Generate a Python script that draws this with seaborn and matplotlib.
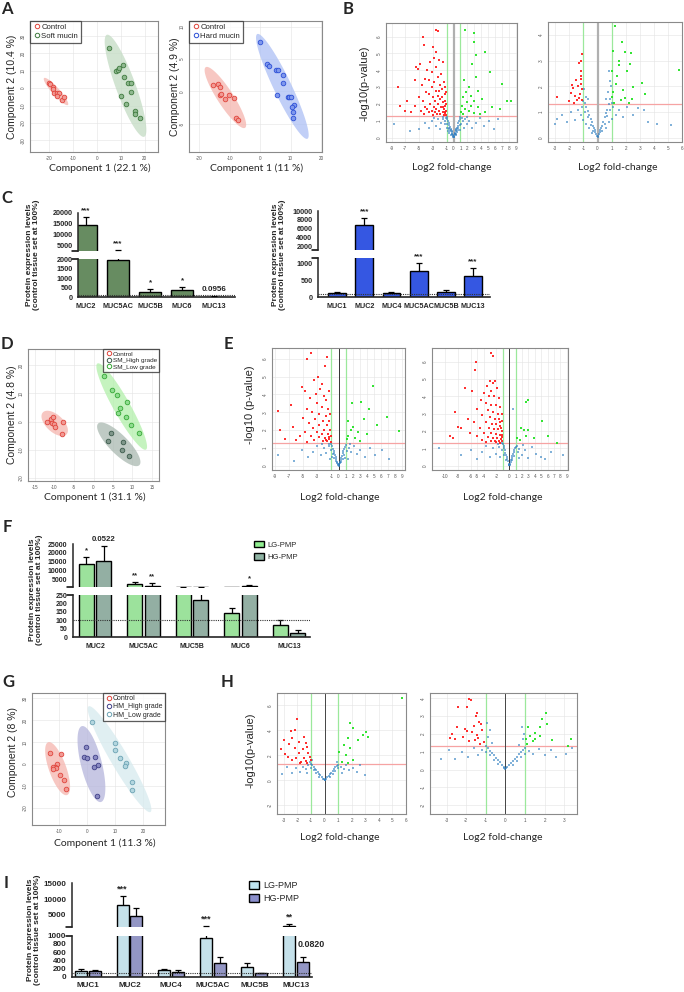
import numpy as np
import pandas as pd
import matplotlib
matplotlib.use("Agg")
import matplotlib.pyplot as plt
from matplotlib.patches import Patch
from matplotlib.lines import Line2D
import seaborn as sns

# ---------------- PCA scores ----------------
a1_control = [(-19.7, 2.9), (-19.5, 2.7), (-18.1, 0.6), (-18.3, -0.6), (-17.8, -2.5),
              (-16.4, -2.9), (-15.7, -2.9), (-16.4, -4.6), (-14.3, -6.6), (-13.5, -4.9)]
a1_soft = [(5.1, 22.9), (8.0, 10.1), (8.9, 10.7), (9.4, 11.4), (11.1, 13.4), (11.5, 6.5),
           (13.0, 2.9), (14.3, 2.9), (14.2, -2.3), (10.1, -4.6), (12.2, -9.1), (15.8, -12.9),
           (16.1, -15.0), (18.0, -17.1)]
a2_control = [(-15.5, 1.0), (-13.9, 1.15), (-13.0, 0.6), (-13.1, -0.5), (-12.8, -0.4),
              (-11.4, -1.2), (-10.3, -0.6), (-8.7, -1.0), (-7.8, -4.2), (-7.2, -4.4)]
a2_hard = [(-0.1, 7.7), (2.4, 4.3), (3.0, 3.9), (5.2, 3.3), (6.0, 3.3), (7.5, 2.6), (7.5, 1.3),
           (5.7, -0.6), (9.0, -0.8), (9.6, -0.8), (10.3, -0.8), (11.2, -2.1), (10.6, -2.5),
           (10.7, -3.2), (10.9, -4.1)]
d_control = [(-11.9, -0.1), (-10.9, 1.1), (-10.4, 1.6), (-10.6, -0.4), (-10.1, -0.8),
             (-9.8, -1.8), (-7.8, -0.2), (-8.1, -4.3)]
d_high = [(4.6, -3.9), (7.6, -7.3), (3.7, -6.7), (7.3, -10.2), (9.2, -12.0)]
d_low = [(2.8, 16.1), (4.8, 11.1), (6.1, 9.3), (8.5, 6.9), (6.8, 4.9), (6.4, 3.0), (8.4, 1.8),
         (9.6, -1.1), (11.7, -3.9)]
g_control = [(-13.0, 5.1), (-9.3, 4.5), (-10.6, 0.0), (-11.4, -1.2), (-12.0, -1.5), (-11.2, -2.0),
             (-12.0, -2.3), (-9.5, -4.9), (-8.0, -7.3), (-7.5, -11.2)]
g_high = [(-0.25, 7.7), (-1.1, 3.0), (0.0, 2.6), (2.75, 3.3), (3.9, -0.6), (2.5, -1.5), (3.6, -14.5)]
g_low = [(1.7, 19.1), (9.9, 9.7), (10.2, 6.5), (12.0, 2.9), (13.8, 0.5), (13.7, -0.9),
         (16.0, -8.2), (16.0, -11.8)]

# ---------------- volcano points (log2 FC, -log10 p) ----------------
bl_red = [(-2.5, 6.4), (-2.2, 6.3), (-4.4, 6.0), (-4.3, 5.5), (-4.8, 4.4), (-5.4, 4.2), (-5.1, 4.1),
          (-8.1, 3.0), (-6.8, 2.2), (-7.0, 1.6), (-7.8, 1.9), (-5.6, 3.4), (-3.0, 5.4), (-2.6, 5.1),
          (-2.9, 4.7), (-3.4, 4.5), (-2.1, 4.6), (-1.6, 4.5), (-2.5, 4.2), (-3.9, 4.0), (-3.1, 3.9),
          (-1.8, 3.8), (-2.3, 3.6), (-4.2, 3.5), (-3.5, 3.4), (-2.8, 3.3), (-1.4, 3.3), (-4.6, 3.1),
          (-2.0, 3.1), (-3.2, 3.0), (-1.7, 2.9), (-2.6, 2.8), (-4.0, 2.7), (-3.6, 2.6), (-1.3, 2.6),
          (-2.2, 2.5), (-5.0, 2.4), (-3.0, 2.4), (-1.9, 2.3), (-4.4, 2.2), (-2.7, 2.2), (-1.5, 2.1),
          (-3.4, 2.0), (-2.3, 2.0), (-1.2, 1.9), (-5.6, 1.9), (-4.1, 1.8), (-2.9, 1.8), (-1.8, 1.8),
          (-3.8, 1.7), (-2.5, 1.7), (-1.4, 1.7), (-4.7, 1.6), (-3.2, 1.6), (-2.1, 1.6), (-1.1, 1.6),
          (-6.2, 1.5), (-3.6, 1.5), (-2.7, 1.5), (-1.6, 1.5), (-1.2, 1.45), (-4.3, 1.4), (-2.4, 1.4),
          (-1.9, 1.4), (-1.4, 1.35), (-3.0, 1.35), (-1.1, 1.35), (-1.3, 2.2), (-1.1, 2.0), (-1.2, 1.55),
          (-1.5, 1.8), (-1.7, 2.4), (-2.1, 2.8), (-1.3, 3.0), (-1.1, 2.7)]
bl_green = [(1.7, 6.4), (2.9, 6.2), (2.9, 5.7), (4.5, 5.1), (3.2, 4.9), (2.7, 4.4), (5.3, 3.9),
            (3.2, 3.6), (7.0, 3.2), (8.3, 2.2), (7.7, 2.2), (5.6, 1.8), (6.8, 1.7), (1.5, 3.4),
            (2.2, 3.0), (1.8, 2.7), (3.6, 2.8), (2.5, 2.5), (1.3, 2.4), (4.1, 2.3), (3.0, 2.2),
            (1.9, 2.1), (1.2, 1.9), (2.6, 1.9), (3.5, 1.8), (1.6, 1.7), (2.2, 1.6), (4.6, 1.5),
            (1.1, 1.5), (2.9, 1.45), (1.4, 1.4), (3.8, 1.4)]
bl_blue = [(0.0, 0.02), (-0.05, 0.05), (0.05, 0.06), (-0.1, 0.1), (0.1, 0.12), (-0.15, 0.18),
           (0.15, 0.2), (-0.2, 0.25), (0.2, 0.22), (-0.25, 0.32), (0.25, 0.3), (-0.3, 0.4),
           (0.3, 0.38), (-0.35, 0.45), (0.35, 0.44), (-0.4, 0.5), (0.4, 0.5), (-0.5, 0.62), (0.5, 0.6),
           (-0.6, 0.75), (0.6, 0.72), (-0.7, 0.88), (0.7, 0.85), (-0.8, 1.0), (0.8, 0.98), (-0.9, 1.12),
           (0.9, 1.1), (-1.0, 1.25), (1.0, 1.22), (-0.3, 0.2), (0.3, 0.18), (-0.5, 0.4), (0.5, 0.35),
           (-0.7, 0.6), (0.7, 0.55), (-0.9, 0.8), (0.9, 0.75), (-1.2, 1.0), (1.1, 0.8), (-1.5, 1.1),
           (1.3, 1.0), (-1.3, 0.8), (1.6, 1.1), (-1.8, 0.9), (1.9, 0.8), (-2.2, 1.1), (2.3, 1.0),
           (-2.6, 0.7), (2.7, 0.6), (-3.1, 1.0), (3.2, 0.9), (-3.5, 0.6), (3.8, 1.2), (-4.2, 0.9),
           (4.4, 0.7), (-5.0, 0.5), (5.1, 1.0), (-6.3, 0.4), (5.9, 0.5), (-8.6, 0.8), (6.5, 1.1),
           (-2.0, 0.5), (1.5, 0.6), (-1.0, 0.6), (1.0, 0.45), (-0.8, 0.4), (-0.6, 0.3), (-0.4, 0.15),
           (0.4, 0.25), (-1.5, 1.25), (2.0, 1.25), (-2.8, 1.2), (-0.6, 0.5), (0.6, 0.45), (-1.1, 1.15),
           (1.2, 1.2)]

br_red = [(-1.1, 3.24), (-1.17, 2.98), (-1.31, 2.92), (-1.19, 2.42), (-1.21, 2.29), (-1.5, 2.26),
          (-1.79, 2.07), (-1.74, 1.93), (-1.62, 1.61), (-1.26, 1.71), (-1.45, 1.48), (-1.07, 1.48),
          (-1.64, 1.35), (-2.88, 1.58), (-1.21, 2.59), (-1.4, 2.0), (-1.1, 1.9), (-1.3, 1.55),
          (-2.0, 1.45), (-1.9, 1.75), (-1.15, 2.1)]
br_green = [(1.26, 4.35), (1.71, 3.74), (1.12, 3.37), (1.95, 3.33), (2.38, 3.31), (1.52, 2.98),
            (1.55, 2.84), (2.31, 2.85), (2.07, 2.59), (1.04, 2.59), (1.36, 2.39), (3.14, 2.13),
            (2.55, 1.97), (1.12, 1.8), (1.79, 1.87), (5.76, 2.65), (3.38, 1.7), (1.64, 1.48),
            (2.26, 1.35), (1.19, 1.35), (1.95, 1.54), (2.43, 1.5), (1.3, 2.1), (1.05, 1.6)]
br_blue = [(0.0, 0.02), (-0.05, 0.06), (0.05, 0.07), (-0.1, 0.14), (0.1, 0.15), (-0.15, 0.22),
           (0.15, 0.24), (-0.2, 0.3), (0.2, 0.32), (-0.25, 0.38), (0.25, 0.4), (-0.3, 0.45), (0.3, 0.47),
           (-0.4, 0.6), (0.4, 0.62), (-0.5, 0.75), (0.5, 0.8), (-0.6, 0.9), (0.6, 0.95), (-0.7, 1.05),
           (0.7, 1.1), (-0.8, 1.2), (0.8, 1.3), (-0.9, 1.35), (0.9, 1.5), (-1.0, 1.45), (1.0, 1.35),
           (-0.3, 0.25), (0.3, 0.25), (-0.5, 0.5), (0.5, 0.55), (-0.7, 0.8), (0.7, 0.85), (-0.9, 1.0),
           (0.9, 1.1), (-1.1, 1.2), (1.1, 1.2), (-1.2, 0.9), (1.3, 0.9), (-1.4, 1.1), (1.5, 1.1),
           (-1.6, 0.7), (1.8, 0.8), (-1.9, 1.0), (2.1, 1.2), (-2.2, 0.6), (2.5, 0.9), (-2.5, 0.9),
           (2.9, 1.15), (-2.9, 0.75), (3.3, 1.1), (-3.0, 0.55), (3.6, 0.6), (4.2, 0.55), (5.2, 0.5),
           (-1.0, 0.7), (-0.8, 0.55), (-0.6, 0.4), (-0.4, 0.2), (0.6, 0.4), (0.8, 0.6), (1.0, 0.75),
           (-0.85, 1.6), (-0.95, 1.9), (0.75, 1.8), (0.8, 2.6), (0.85, 2.2), (0.95, 2.0), (0.6, 1.5),
           (-0.7, 1.5)]

el_red = [(-3.9, 6.3), (-4.4, 6.0), (-1.6, 6.1), (-1.9, 5.6), (-5.1, 4.4), (-4.7, 4.2), (-6.7, 3.4),
          (-8.5, 3.1), (-8.2, 2.0), (-6.5, 2.2), (-5.4, 1.65), (-2.9, 5.0), (-2.3, 4.6), (-1.7, 3.7),
          (-3.5, 4.8), (-2.6, 4.3), (-3.2, 4.0), (-4.0, 3.8), (-1.4, 4.2), (-2.0, 3.9), (-3.0, 3.5),
          (-2.4, 3.3), (-4.4, 3.2), (-1.5, 3.2), (-3.7, 3.0), (-2.8, 2.9), (-1.8, 2.8), (-5.0, 2.7),
          (-3.3, 2.6), (-2.2, 2.5), (-1.3, 2.5), (-4.2, 2.4), (-2.7, 2.3), (-1.6, 2.3), (-3.6, 2.1),
          (-2.0, 2.0), (-1.2, 2.0), (-4.8, 1.9), (-3.0, 1.9), (-2.4, 1.8), (-1.5, 1.8), (-3.9, 1.7),
          (-1.1, 1.7), (-2.8, 1.6), (-1.9, 1.55), (-1.3, 1.5), (-6.0, 1.45), (-3.4, 1.45), (-2.2, 1.4),
          (-1.6, 1.38), (-1.1, 1.35), (-4.5, 1.35), (-7.6, 1.5), (-1.2, 2.9), (-1.4, 1.6), (-1.7, 1.45)]
el_green = [(3.2, 3.6), (4.9, 4.5), (1.9, 3.5), (4.3, 3.2), (6.9, 2.75), (8.6, 1.95), (1.3, 2.5),
            (2.1, 2.2), (2.8, 1.9), (3.6, 2.6), (1.4, 1.7), (2.4, 1.55), (4.0, 1.8), (1.2, 1.5),
            (5.5, 2.3), (3.0, 1.4), (1.7, 2.0)]
el_blue = [(0.0, 0.02), (-0.05, 0.05), (0.05, 0.05), (-0.1, 0.1), (0.1, 0.1), (-0.15, 0.17),
           (0.15, 0.18), (-0.2, 0.24), (0.2, 0.23), (-0.3, 0.36), (0.3, 0.35), (-0.4, 0.48), (0.4, 0.46),
           (-0.5, 0.6), (0.5, 0.58), (-0.6, 0.72), (0.6, 0.7), (-0.7, 0.85), (0.7, 0.82), (-0.8, 0.97),
           (0.8, 0.95), (-0.9, 1.1), (0.9, 1.05), (-1.0, 1.22), (1.0, 1.15), (-0.4, 0.25), (0.4, 0.22),
           (-0.6, 0.45), (0.6, 0.4), (-0.8, 0.65), (0.8, 0.6), (-1.1, 0.9), (1.2, 0.85), (-1.4, 1.1),
           (1.5, 1.0), (-1.7, 0.7), (1.8, 0.75), (-2.1, 1.0), (2.2, 1.1), (-2.5, 0.6), (2.6, 0.65),
           (-3.0, 1.1), (3.1, 0.9), (-3.6, 0.8), (3.7, 0.5), (-4.3, 0.5), (4.4, 1.0), (-5.2, 0.9),
           (5.2, 0.6), (-6.3, 0.3), (6.1, 0.9), (-8.6, 0.6), (7.2, 0.4), (-1.3, 1.25), (1.6, 1.25),
           (-2.3, 1.2), (-0.9, 0.5), (0.9, 0.45), (-1.2, 0.4), (1.3, 0.4)]

er_red = [(-2.8, 6.5), (-2.5, 6.35), (-5.2, 6.0), (-5.4, 5.5), (-6.9, 4.5), (-5.9, 4.3), (-8.5, 3.1),
          (-6.4, 2.7), (-8.0, 2.25), (-7.5, 2.15), (-9.3, 1.7), (-8.8, 1.6), (-3.0, 4.9), (-2.6, 4.8),
          (-2.2, 4.9), (-3.5, 4.6), (-1.9, 4.5), (-2.8, 4.3), (-4.0, 4.2), (-3.2, 4.0), (-2.4, 4.0),
          (-1.6, 3.9), (-4.5, 3.8), (-3.6, 3.6), (-2.9, 3.5), (-2.1, 3.5), (-1.4, 3.4), (-5.0, 3.3),
          (-3.3, 3.2), (-2.6, 3.1), (-1.8, 3.0), (-1.2, 3.0), (-4.2, 2.9), (-3.0, 2.8), (-2.3, 2.7),
          (-1.6, 2.7), (-1.1, 2.6), (-5.5, 2.5), (-3.7, 2.5), (-2.7, 2.4), (-2.0, 2.4), (-1.4, 2.3),
          (-4.6, 2.2), (-3.2, 2.2), (-2.4, 2.1), (-1.7, 2.1), (-1.2, 2.0), (-6.1, 1.9), (-3.9, 1.9),
          (-2.9, 1.9), (-2.1, 1.85), (-1.5, 1.8), (-1.1, 1.75), (-5.0, 1.7), (-3.4, 1.65), (-2.6, 1.6),
          (-1.9, 1.6), (-1.3, 1.55), (-4.3, 1.5), (-2.9, 1.45), (-2.2, 1.45), (-1.6, 1.4), (-1.1, 1.4),
          (-3.6, 1.35), (-2.0, 1.35), (-1.4, 1.32), (-1.3, 2.2), (-1.5, 2.55), (-1.2, 1.65)]
er_green = [(3.0, 3.8), (2.6, 3.7), (5.1, 2.6), (1.9, 2.15), (2.3, 2.05), (3.0, 2.05), (1.25, 1.6),
            (3.8, 1.6), (6.1, 1.7), (1.7, 1.5), (2.7, 1.7), (7.4, 1.3)]
er_blue = [(0.0, 0.02), (-0.05, 0.06), (0.05, 0.05), (-0.1, 0.12), (0.1, 0.1), (-0.2, 0.25),
           (0.2, 0.22), (-0.3, 0.38), (0.3, 0.33), (-0.4, 0.5), (0.4, 0.44), (-0.5, 0.62), (0.5, 0.55),
           (-0.6, 0.75), (0.6, 0.66), (-0.7, 0.88), (0.7, 0.78), (-0.8, 1.0), (0.8, 0.9), (-0.9, 1.12),
           (0.9, 1.0), (-1.0, 1.25), (1.0, 1.1), (-1.1, 1.3), (1.15, 1.15), (-0.5, 0.3), (0.5, 0.3),
           (-0.8, 0.6), (0.8, 0.55), (-1.2, 0.9), (1.3, 0.8), (-1.6, 1.1), (1.6, 0.95), (-2.0, 0.7),
           (2.0, 0.6), (-2.5, 1.0), (2.5, 0.9), (-3.0, 0.5), (3.0, 0.45), (-3.6, 1.15), (3.5, 1.1),
           (-4.3, 0.8), (4.2, 0.7), (-5.0, 0.4), (4.9, 0.5), (-6.0, 0.9), (5.6, 0.4), (-7.5, 0.6),
           (6.5, 0.8), (-11.0, 1.0), (8.4, 0.6), (-1.4, 0.5), (1.5, 0.45), (0.6, 3.3), (-1.8, 1.25),
           (2.2, 1.2)]

hl_red = [(-2.0, 4.9), (-2.2, 4.05), (-2.5, 3.97), (-3.0, 3.25), (-3.2, 2.5), (-2.7, 1.9), (-1.5, 3.5),
          (-1.36, 3.0), (-1.85, 3.1), (-2.2, 2.6), (-1.2, 2.2), (-1.5, 1.8), (-1.03, 1.65), (-1.26, 1.4),
          (-1.7, 1.5), (-2.4, 1.6), (-1.9, 2.2), (-2.6, 2.9), (-1.6, 2.5), (-1.1, 1.9), (-2.1, 1.75),
          (-1.4, 1.55), (-2.9, 2.1), (-1.8, 1.35), (-1.3, 2.7), (-2.4, 3.4)]
hl_green = [(1.9, 4.6), (2.07, 4.2), (3.05, 3.9), (2.8, 3.65), (2.5, 3.25), (3.2, 3.45), (1.74, 3.4),
            (1.4, 2.85), (1.9, 2.6), (1.1, 2.3), (1.6, 2.05), (2.07, 1.65), (1.25, 1.5), (5.7, 6.6),
            (1.74, 1.4)]
hl_blue = [(0.0, 0.02), (-0.05, 0.07), (0.05, 0.06), (-0.1, 0.14), (0.1, 0.13), (-0.2, 0.27),
           (0.2, 0.25), (-0.3, 0.4), (0.3, 0.38), (-0.4, 0.53), (0.4, 0.5), (-0.5, 0.66), (0.5, 0.62),
           (-0.6, 0.8), (0.6, 0.76), (-0.7, 0.93), (0.7, 0.9), (-0.8, 1.06), (0.8, 1.03), (-0.9, 1.2),
           (0.9, 1.15), (-1.0, 1.3), (1.0, 1.25), (-0.4, 0.3), (0.4, 0.28), (-0.6, 0.55), (0.6, 0.5),
           (-0.8, 0.8), (0.8, 0.75), (-1.0, 1.0), (1.0, 0.95), (-1.2, 1.2), (1.2, 1.1), (-1.4, 0.9),
           (1.4, 0.9), (-1.6, 1.1), (1.6, 1.2), (-1.8, 0.7), (1.8, 0.8), (-2.1, 1.0), (2.1, 1.0),
           (-2.4, 0.6), (2.4, 0.7), (-2.8, 1.1), (2.6, 1.2), (-3.1, 0.5), (3.0, 0.4), (-0.9, 1.6),
           (-1.1, 1.5), (0.9, 1.5), (-1.3, 0.6), (1.3, 0.6)]

hr_red = [(-1.84, 3.98), (-1.77, 3.89), (-2.43, 3.54), (-1.94, 3.52), (-1.46, 3.2), (-1.5, 3.0),
          (-2.48, 2.4), (-2.06, 2.28), (-1.97, 2.19), (-1.33, 2.65), (-1.26, 2.56), (-1.63, 2.46),
          (-2.74, 2.0), (-2.82, 1.78), (-2.57, 1.72), (-2.18, 1.81), (-1.72, 2.09), (-1.43, 1.96),
          (-1.21, 2.22), (-1.84, 1.63), (-1.55, 1.67), (-1.29, 1.44), (-1.12, 1.54), (-1.38, 1.78)]
hr_green = [(2.07, 3.15), (1.85, 2.83), (2.14, 2.56), (1.77, 2.41), (1.17, 2.37), (1.51, 2.06),
            (1.26, 1.91), (1.77, 1.91), (1.04, 1.72), (1.51, 1.72), (2.36, 1.67), (3.35, 1.7),
            (3.21, 1.34), (1.39, 1.63), (1.12, 1.44)]
hr_blue = [(0.0, 0.02), (-0.05, 0.07), (0.05, 0.06), (-0.1, 0.14), (0.1, 0.12), (-0.2, 0.27),
           (0.2, 0.24), (-0.3, 0.4), (0.3, 0.36), (-0.4, 0.53), (0.4, 0.48), (-0.5, 0.66), (0.5, 0.6),
           (-0.6, 0.8), (0.6, 0.72), (-0.7, 0.93), (0.7, 0.85), (-0.8, 1.06), (0.8, 0.98), (-0.9, 1.2),
           (0.9, 1.1), (-1.0, 1.3), (1.0, 1.22), (-0.4, 0.3), (0.4, 0.25), (-0.6, 0.55), (0.6, 0.5),
           (-0.8, 0.8), (0.8, 0.72), (-1.0, 1.0), (1.0, 0.9), (-1.2, 1.1), (1.2, 1.05), (-1.4, 0.8),
           (1.4, 0.9), (-1.6, 1.2), (1.7, 1.15), (-1.9, 0.7), (2.0, 0.8), (-2.2, 1.0), (2.3, 1.1),
           (-2.6, 0.6), (2.6, 0.7), (-2.9, 1.1), (3.1, 0.9), (-3.3, 0.6), (3.4, 1.2), (-0.9, 1.8),
           (-0.8, 2.2), (-0.95, 2.6), (0.9, 1.7), (0.95, 2.0), (0.85, 2.4), (-0.7, 1.5), (0.7, 1.4)]

P_CUT = -np.log10(0.05)
FC_CUT = 1.0

# ---------------- mucin bar data (% of control tissue) ----------------
c1_genes = ['MUC2', 'MUC5AC', 'MUC5B', 'MUC6', 'MUC13']
c1_mean = [14300, 1950, 300, 380, 40]
c1_sem = [3700, 900, 120, 180, 20]
c1_sig = ['***', '***', '*', '*', '0.0956']

c2_genes = ['MUC1', 'MUC2', 'MUC4', 'MUC5AC', 'MUC5B', 'MUC13']
c2_mean = [130, 6800, 120, 800, 170, 650]
c2_sem = [30, 1700, 30, 230, 60, 220]
c2_sig = ['', '***', '', '***', '', '***']

f_genes = ['MUC2', 'MUC5AC', 'MUC5B', 'MUC6', 'MUC13']
f_lg_mean = [13500, 2100, 550, 140, 70]
f_lg_sem = [4000, 1300, 60, 30, 30]
f_hg_mean = [15400, 1150, 220, 750, 26]
f_hg_sem = [8800, 1350, 300, 950, 16]
f_lg_sig = ['*', '**', '', '', '']
f_hg_sig = ['0.0522', '**', '', '*', '']

i_genes = ['MUC1', 'MUC2', 'MUC4', 'MUC5AC', 'MUC5B', 'MUC13']
i_lg_mean = [150, 8300, 160, 950, 240, 1400]
i_lg_sem = [50, 2600, 40, 570, 90, 600]
i_hg_mean = [130, 4750, 120, 340, 85, 350]
i_hg_sem = [40, 2600, 40, 150, 10, 120]
i_lg_sig = ['', '***', '', '***', '', '**']
i_hg_sig = ['', '', '', '', '', ('0.0820', 6, 6)]

# ---------------- figure ----------------
sns.set_style("white")
plt.rcParams['font.family'] = ['Liberation Sans', 'DejaVu Sans']

W, H = 684, 992
fig = plt.figure(figsize=(W / 100, H / 100), dpi=100)


def px_axes(x0, y0, x1, y1):
    return fig.add_axes([x0 / W, 1 - y1 / H, (x1 - x0) / W, (y1 - y0) / H])


def fig_text(x, y, s, **kw):
    kw.setdefault('ha', 'center')
    kw.setdefault('va', 'center')
    fig.text(x / W, 1 - y / H, s, **kw)


def conf_ellipse(xs, ys, k=2.45, n=120):
    pts = np.column_stack([xs, ys])
    mu = pts.mean(axis=0)
    vals, vecs = np.linalg.eigh(np.cov(pts.T))
    t = np.linspace(0, 2 * np.pi, n)
    ell = vecs @ (np.sqrt(vals)[:, None] * np.vstack([np.cos(t), np.sin(t)])) * k
    return mu[0] + ell[0], mu[1] + ell[1]


def tiny_axes(ax, xlim, ylim, xticks, yticks):
    ax.set_xlim(xlim)
    ax.set_ylim(ylim)
    ax.set_xticks(xticks)
    ax.set_yticks(yticks)
    ax.set_xticklabels([str(t) for t in xticks])
    ax.set_yticklabels([str(t) for t in yticks], rotation=90, va='center')
    ax.tick_params(labelsize=3.3, length=1.5, width=0.4, colors='#555555', pad=1.5)
    ax.grid(True, color='#e4e4e4', lw=0.4)
    ax.set_axisbelow(True)
    for s in ax.spines.values():
        s.set_color('#8a8a8a')
        s.set_linewidth(0.8)
    ax.set_xlabel('')
    ax.set_ylabel('')


def pca_panel(rect, groups, xlim, ylim, xticks, yticks, loc, leg_fs):
    ax = px_axes(*rect)
    handles = []
    for name, pts, edge, face, shade in groups:
        xs = [p[0] for p in pts]
        ys = [p[1] for p in pts]
        ex, ey = conf_ellipse(xs, ys)
        ax.fill(ex, ey, color=shade, alpha=0.75, lw=0, zorder=1)
        sns.scatterplot(x=xs, y=ys, ax=ax, color=face, edgecolor=edge, s=11, linewidth=0.6, zorder=3)
        handles.append(Line2D([], [], marker='o', ls='none', mfc='none', mec=edge, ms=3.2,
                              mew=0.7, label=name))
    tiny_axes(ax, xlim, ylim, xticks, yticks)
    leg = ax.legend(handles=handles, loc=loc, fontsize=leg_fs, frameon=True, fancybox=False,
                    edgecolor='#333333', borderpad=0.35, handletextpad=0.1, labelspacing=0.15,
                    borderaxespad=0, handlelength=1.0)
    leg.get_frame().set_linewidth(0.9)
    return ax


def volcano(rect, red, green, blue, xlim, ylim, xticks, yticks, zero_color, zero_lw):
    ax = px_axes(*rect)
    for pts, col, a in ((blue, '#2f7fc1', 0.6), (red, '#ff1a1a', 0.9), (green, '#1ee21e', 0.9)):
        sns.scatterplot(x=[p[0] for p in pts], y=[p[1] for p in pts], ax=ax, color=col, alpha=a,
                        s=3, marker='s', linewidth=0, zorder=3)
    ax.axhline(P_CUT, color='#f6a3a3', lw=0.9, zorder=2)
    for v in (-FC_CUT, FC_CUT):
        ax.axvline(v, color='#9be89b', lw=0.9, zorder=2)
    ax.axvline(0, color=zero_color, lw=zero_lw, zorder=2)
    tiny_axes(ax, xlim, ylim, xticks, yticks)
    return ax


def broken_bars(x0, x1, ys, genes, series, top_lim, bot_lim, top_ticks, bot_ticks, xlim,
                width, gap, fs, pad=2.0):
    ax_t = px_axes(x0, ys[0], x1, ys[1])
    ax_b = px_axes(x0, ys[2], x1, ys[3])
    rows = []
    for lab, means, sems, col, sigs in series:
        for g, m in zip(genes, means):
            rows.append({'gene': g, 'group': lab, 'value': m})
    df = pd.DataFrame(rows)
    labels = [s[0] for s in series]
    pal = {s[0]: s[3] for s in series}
    n = len(series)
    for ax, lo in ((ax_t, top_lim[0]), (ax_b, -np.inf)):
        sns.barplot(data=df, x='gene', y='value', hue='group', hue_order=labels, order=genes,
                    palette=pal, ax=ax, width=width, gap=gap, dodge=True, errorbar=None,
                    edgecolor='black', linewidth=1.0, legend=False, zorder=2)
        # one-sided (upward) error bars
        for i, (lab, means, sems, col, sigs) in enumerate(series):
            xs = np.arange(len(genes)) + (i - (n - 1) / 2) * width / n
            m = np.asarray(means, float)
            tops = m + np.asarray(sems, float)
            keep = tops > lo
            ax.vlines(xs[keep], m[keep], tops[keep], color='black', lw=0.9, zorder=3)
            ax.plot(xs[keep], tops[keep], ls='none', marker='_', ms=5, mew=0.9, color='black',
                    zorder=3)
        ax.set_xlim(xlim)
        ax.set_xlabel('')
        ax.set_ylabel('')
        for s in ('top', 'right'):
            ax.spines[s].set_visible(False)
        ax.spines['left'].set_linewidth(1.1)
        ax.tick_params(axis='y', labelsize=fs, length=3, width=1.0, pad=1)
    ax_t.set_ylim(top_lim)
    ax_b.set_ylim(bot_lim)
    ax_t.set_yticks(top_ticks)
    ax_b.set_yticks(bot_ticks)
    ax_t.set_yticklabels([str(t) for t in top_ticks], fontweight='bold')
    ax_b.set_yticklabels([str(t) for t in bot_ticks], fontweight='bold')
    ax_t.spines['bottom'].set_visible(False)
    ax_t.set_xticks([])
    ax_b.spines['bottom'].set_linewidth(1.2)
    ax_b.set_xticks(range(len(genes)))
    ax_b.set_xticklabels(genes, fontsize=fs, fontweight='bold')
    ax_b.tick_params(axis='x', length=2.5, width=1.0, pad=1.5)
    ax_b.axhline(100, color='#333333', lw=0.8, ls=(0, (1, 1)), zorder=4)
    # break marks on the y axis
    dash = 6 / (x1 - x0)
    ax_t.plot([-dash, 0], [0, 0], transform=ax_t.transAxes, color='black', lw=1.1, clip_on=False)
    ax_b.plot([-dash, 0], [1, 1], transform=ax_b.transAxes, color='black', lw=1.1, clip_on=False)
    # significance labels
    for i, (lab, means, sems, col, sigs) in enumerate(series):
        xs = np.arange(len(genes)) + (i - (n - 1) / 2) * width / n
        for j, sg in enumerate(sigs):
            if not sg:
                continue
            dx, dy = 0, pad
            if isinstance(sg, tuple):
                sg, dx, dy = sg
            top = means[j] + sems[j]
            ax = ax_b if top <= bot_lim[1] else ax_t
            ax.annotate(sg, (xs[j], top), xytext=(dx, dy), textcoords='offset points',
                        ha='center', va='bottom', fontsize=fs + 0.6, fontweight='bold',
                        annotation_clip=False, zorder=5)
    return ax_t, ax_b


LBL = dict(fontsize=12, fontweight='bold', family='Lato')
XL = dict(fontsize=7.5, family='Lato')
YL = dict(fontsize=7.5, rotation=90)
BARY = dict(fontsize=6, fontweight='bold', rotation=90, linespacing=1.0)
BAR_TXT = 'Protein expression levels\n(control tissue set at 100%)'

red_c = ('#e0443c', '#f19a94', '#f5b5ae')

# ---- A ----
fig_text(7, 9, 'A', **LBL)
pca_panel((30, 21, 158, 152),
          [('Control', a1_control, *red_c),
           ('Soft mucin', a1_soft, '#3f7a3f', '#8fb98f', '#c3dbc3')],
          (-27.8, 25.5), (-36.7, 38.7), [-20, -10, 0, 10, 20], [-30, -20, -10, 0, 10, 20, 30],
          'upper left', 5.6)
pca_panel((189, 21, 322, 152),
          [('Control', a2_control, *red_c),
           ('Hard mucin', a2_hard, '#2c4fd6', '#7f98ec', '#acbff5')],
          (-23.3, 20.3), (-9.4, 10.9), [-20, -10, 0, 10, 20], [-5, 0, 5, 10],
          'upper left', 5.6)
fig_text(12, 87, 'Component 2 (10.4 %)', **YL)
fig_text(175, 87, 'Component 2 (4.9 %)', **YL)
fig_text(100, 168, 'Component 1 (22.1 %)', **XL)
fig_text(257, 168, 'Component 1 (11 %)', **XL)

# ---- B ----
fig_text(348, 9, 'B', **LBL)
volcano((386, 23, 517, 142), bl_red, bl_green, bl_blue, (-9.8, 9.2), (-0.25, 6.8),
        [-9, -7, -5, -3, -1, 0, 1, 2, 3, 4, 5, 6, 7, 8, 9], [0, 1, 2, 3, 4, 5, 6], '#b0b0b0', 1.6)
volcano((548, 22, 682, 142), br_red, br_green, br_blue, (-3.52, 6.0), (-0.16, 4.5),
        [-3, -2, -1, 0, 1, 2, 3, 4, 5, 6], [0, 1, 2, 3, 4], '#b0b0b0', 1.6)
fig_text(365, 83, '-log10(p-value)', fontsize=8, rotation=90)
fig_text(452, 168, 'Log2 fold-change', **XL)
fig_text(618, 168, 'Log2 fold-change', **XL)

# ---- C ----
fig_text(7, 198, 'C', **LBL)
broken_bars(78, 235, (212.7, 251, 259, 297.3), c1_genes,
            [('c', c1_mean, c1_sem, '#62935a', c1_sig)],
            (2600, 20000), (0, 2000), [5000, 10000, 15000, 20000], [0, 500, 1000, 1500, 2000],
            (-0.25, 4.65), 0.7, 0, 5.2)
broken_bars(318, 490, (211, 250, 258, 297.3), c2_genes,
            [('c', c2_mean, c2_sem, '#1846ff', c2_sig)],
            (1333, 10000), (0, 1180), [2000, 4000, 6000, 8000, 10000], [0, 500, 1000],
            (-0.7, 5.62), 0.65, 0, 5.2)
fig_text(33, 255, BAR_TXT, **BARY)
fig_text(279, 255, BAR_TXT, **BARY)

# ---- D ----
fig_text(7, 344, 'D', **LBL)
pca_panel((28, 349, 159, 481),
          [('Control', d_control, *red_c),
           ('SM_High grade', d_high, '#3b5a4b', '#7f968a', '#aab9b1'),
           ('SM_Low grade', d_low, '#35a835', '#8fdd8f', '#b2f0aa')],
          (-16.8, 16.8), (-21.0, 25.7), [-15, -10, -5, 0, 5, 10, 15], [-20, -10, 0, 10, 20],
          'upper right', 4.6)
fig_text(12, 415, 'Component 2 (4.8 %)', **YL)
fig_text(95, 497, 'Component 1 (31.1 %)', **XL)

# ---- E ----
fig_text(228, 344, 'E', **LBL)
volcano((272, 348, 405, 470), el_red, el_green, el_blue, (-9.4, 9.4), (-0.23, 6.6),
        [-9, -7, -5, -3, -1, 0, 1, 2, 3, 4, 5, 6, 7, 8, 9], [0, 1, 2, 3, 4, 5, 6], '#333333', 0.7)
volcano((432, 348, 568, 470), er_red, er_green, er_blue, (-12.1, 9.2), (-0.25, 6.8),
        [-10, -8, -6, -5, -4, -2, 0, 1, 2, 3, 4, 5, 6, 7, 8, 9], [0, 1, 2, 3, 4, 5, 6], '#333333', 0.7)
fig_text(250, 405, '-log10 (p-value)', fontsize=8, rotation=90)
fig_text(340, 497, 'Log2 fold-change', **XL)
fig_text(503, 497, 'Log2 fold-change', **XL)

# ---- F ----
fig_text(7, 527, 'F', **LBL)
broken_bars(72.7, 310, (544.3, 587.3, 595, 637), f_genes,
            [('LG-PMP', f_lg_mean, f_lg_sem, '#90ee90', f_lg_sig),
             ('HG-PMP', f_hg_mean, f_hg_sem, '#8fb3a3', f_hg_sig)],
            (250, 25000), (0, 250), [5000, 10000, 15000, 20000, 25000],
            [0, 50, 100, 150, 200, 250], (-0.46, 4.43), 0.72, 0.15, 5.0)
fig_text(36, 590, BAR_TXT, **BARY)
fig.legend(handles=[Patch(facecolor='#90ee90', edgecolor='black', lw=1.0, label='LG-PMP'),
                    Patch(facecolor='#8fb3a3', edgecolor='black', lw=1.0, label='HG-PMP')],
           loc='upper left', bbox_to_anchor=(254 / W, 1 - 541 / H), frameon=False, fontsize=5.5,
           handlelength=1.3, handleheight=0.9, labelspacing=0.6, handletextpad=0.5,
           borderpad=0, borderaxespad=0)

# ---- G ----
fig_text(8, 682, 'G', **LBL)
pca_panel((32, 693, 165, 825),
          [('Control', g_control, *red_c),
           ('HM_High grade', g_high, '#404088', '#8a8ac2', '#b5b5dc'),
           ('HM_Low grade', g_low, '#6aa2b3', '#b3d6df', '#d6eaee')],
          (-19.6, 27.9), (-27.7, 32.3), [-10, 0, 10, 20], [-20, -10, 0, 10, 20, 30],
          'upper right', 5.0)
fig_text(13, 752, 'Component 2 (8 %)', **YL)
fig_text(105, 843, 'Component 1 (11.3 %)', **XL)

# ---- H ----
fig_text(227, 682, 'H', **LBL)
volcano((277, 693, 406, 814), hl_red, hl_green, hl_blue, (-3.5, 6.0), (-2.7, 7.0),
        [-3, -2, -1, 0, 1, 2, 3, 4, 5, 6], [-2, 0, 2, 4, 6], '#444444', 0.7)
volcano((430, 693, 577, 814), hr_red, hr_green, hr_blue, (-3.85, 3.65), (-2.5, 4.3),
        [-3, -2, -1, 0, 1, 2, 3], [-2, -1, 0, 1, 2, 3, 4], '#444444', 0.7)
fig_text(251, 750, '-log10(p-value)', fontsize=8, rotation=90)
fig_text(340, 838, 'Log2 fold-change', **XL)
fig_text(503, 838, 'Log2 fold-change', **XL)

# ---- I ----
fig_text(6, 883, 'I', **LBL)
broken_bars(71.7, 311.7, (883.3, 926.7, 935.7, 976.7), i_genes,
            [('LG-PMP', i_lg_mean, i_lg_sem, '#bfe4f0', i_lg_sig),
             ('HG-PMP', i_hg_mean, i_hg_sem, '#8b8fcc', i_hg_sig)],
            (1300, 15000), (0, 1000), [5000, 10000, 15000], [0, 200, 400, 600, 800, 1000],
            (-0.39, 5.38), 0.66, 0.12, 5.8)
fig_text(34, 930, BAR_TXT, **BARY)
fig.legend(handles=[Patch(facecolor='#bfe4f0', edgecolor='black', lw=1.0, label='LG-PMP'),
                    Patch(facecolor='#8b8fcc', edgecolor='black', lw=1.0, label='HG-PMP')],
           loc='upper left', bbox_to_anchor=(249 / W, 1 - 881 / H), frameon=False, fontsize=6.5,
           handlelength=1.1, handleheight=0.9, labelspacing=0.45, handletextpad=0.5,
           borderpad=0, borderaxespad=0)

fig.savefig('out.png', dpi=100)
